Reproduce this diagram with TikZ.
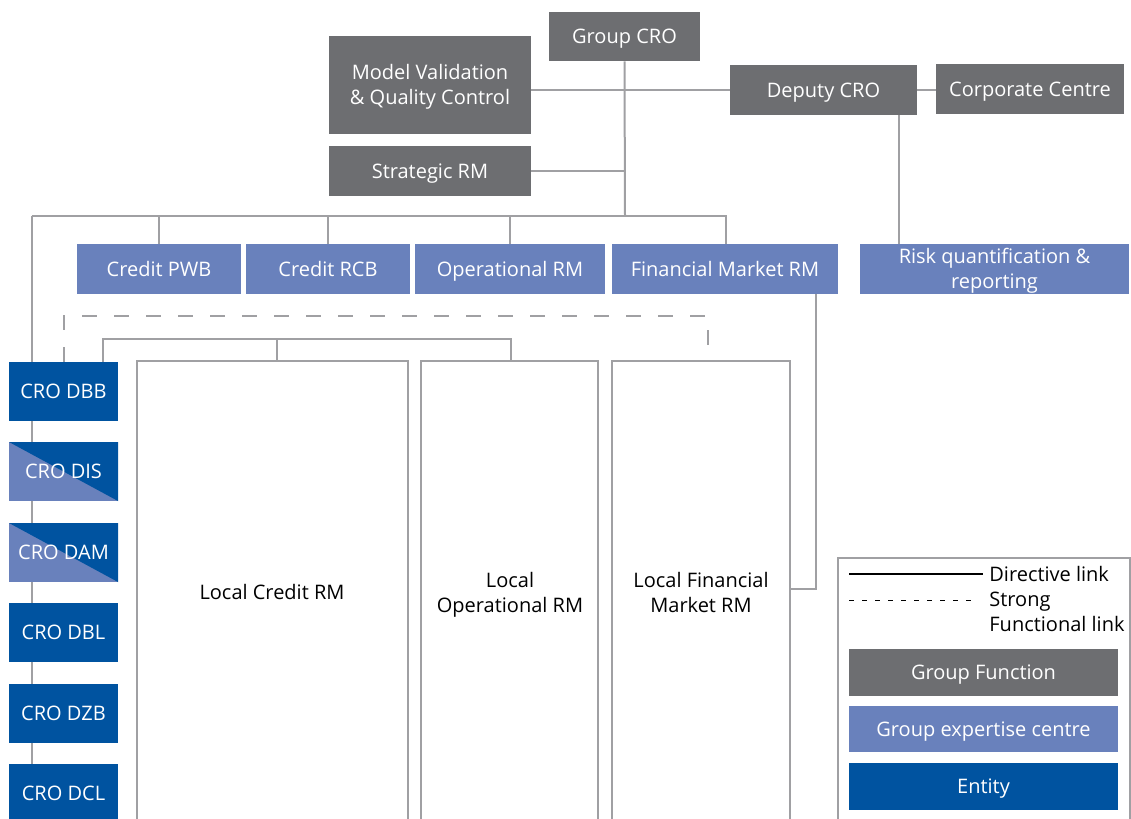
\documentclass[tikz,border=0pt]{standalone}
\usepackage{fontspec}
\setmainfont{Open Sans}
\definecolor{gf}{HTML}{6D6E71}
\definecolor{gec}{HTML}{6981BC}
\definecolor{ent}{HTML}{0053A0}
\definecolor{ln}{HTML}{A0A0A3}
\newcommand\bx[7]{%
 \pgfmathsetmacro\bw{(#4-#2)*0.5}%
 \pgfmathsetmacro\bh{(#5-#3)*0.5}%
 \node[#6,minimum width=\bw pt,minimum height=\bh pt] (#1) at ({(#2+#4)/2},{(#3+#5)/2}) {#7};}
\begin{document}
\begin{tikzpicture}[x=0.5pt,y=-0.5pt,
  box/.style={inner sep=0pt,text=white,align=center,font=\fontsize{10}{12.5}\selectfont,text height=7.1pt,text depth=0pt},
  two/.style={text height=19.6pt},
  gfbox/.style={box,fill=gf},
  gecbox/.style={box,fill=gec},
  entbox/.style={box,fill=ent},
  mixbox/.style={box,fill=gec,path picture={\fill[ent] (path picture bounding box.north west) -- (path picture bounding box.north east) -- (path picture bounding box.south east) -- cycle;}},
  localbox/.style={draw=ln,line width=1pt,fill=white,inner sep=0pt},
  link/.style={draw=ln,line width=1pt},
  flink/.style={draw=ln,line width=1pt,dash pattern=on 7.5pt off 8.5pt},
  txt/.style={inner sep=0pt,align=center,font=\fontsize{10}{12.5}\selectfont,text height=7.1pt,text depth=0pt}]
\useasboundingbox (0,0) rectangle (1131,819);
% junction coordinates
\coordinate (busL) at (31.7,216);
\coordinate (busR) at (725.8,216);
\coordinate (busG) at (625,216);
\coordinate (strJ) at (625,171);
\coordinate (fmC) at (816,589);
\coordinate (solL) at (102.7,339);
\coordinate (solR) at (511,339);
\coordinate (solC) at (277.3,339);
\coordinate (dashL) at (64.3,315.7);
\coordinate (dashR) at (707.7,315.7);
\coordinate (dpJ) at (899,114);
% boxes
\bx{gcro}{549}{12}{700}{61}{gfbox}{Group CRO}
\bx{mvqc}{329}{36}{531}{134}{gfbox,two}{Model Validation\\\& Quality Control}
\bx{srm}{329}{146}{531}{196}{gfbox}{Strategic RM}
\bx{dcro}{730}{65}{917}{115}{gfbox}{Deputy CRO}
\bx{cc}{936}{64}{1124}{114}{gfbox}{Corporate Centre}
\bx{cpwb}{77}{244}{241}{294}{gecbox}{Credit PWB}
\bx{crcb}{246}{244}{410}{294}{gecbox}{Credit RCB}
\bx{oprm}{415}{244}{605}{294}{gecbox}{Operational RM}
\bx{fmrm}{612}{244}{838}{294}{gecbox}{Financial Market RM}
\bx{rqr}{860}{244}{1129}{294}{gecbox,two}{Risk quantification \&\\reporting}
\bx{dbb}{9}{362}{118}{421}{entbox}{CRO DBB}
\bx{dis}{9}{442}{118}{501}{mixbox}{CRO DIS}
\bx{dam}{9}{523}{118}{582}{mixbox}{CRO DAM}
\bx{dbl}{9}{603}{118}{662}{entbox}{CRO DBL}
\bx{dzb}{9}{684}{118}{743}{entbox}{CRO DZB}
\bx{dcl}{9}{764}{118}{823}{entbox}{CRO DCL}
\bx{lc}{137}{361}{408}{830}{localbox}{}
\bx{lo}{421}{361}{598}{830}{localbox}{}
\bx{lfm}{612}{361}{790}{830}{localbox}{}
\node[txt] (lctxt) at (272,592) {Local Credit RM};
\node[txt,two] (lotxt) at (510,592.5) {Local\\Operational RM};
\node[txt,two] (lfmtxt) at (701,592.5) {Local Financial\\Market RM};
% connectors
\draw[link] (gcro.south) -- (busG);
\draw[link] (dcro.west -| mvqc.east) -- (dcro.west);
\draw[link] (dcro.east) -- (dcro.east -| cc.west);
\draw[link] (srm.east) -- (strJ);
\draw[link] (busL) -- (busR) -- (fmrm.north -| busR);
\draw[link] (cpwb.north) -- (cpwb.north |- busL);
\draw[link] (crcb.north) -- (crcb.north |- busL);
\draw[link] (oprm.north) -- (oprm.north |- busL);
\draw[link] (busL) -- (dbb.north -| busL);
\draw[link] (dbb.south -| busL) -- (dis.north -| busL);
\draw[link] (dis.south -| busL) -- (dam.north -| busL);
\draw[link] (dam.south -| busL) -- (dbl.north -| busL);
\draw[link] (dbl.south -| busL) -- (dzb.north -| busL);
\draw[link] (dzb.south -| busL) -- (dcl.north -| busL);
\draw[link] (dcro.south -| dpJ) -- (rqr.north -| dpJ);
\draw[link] (fmrm.south -| fmC) -- (fmC) -- (lfm.east |- fmC);
\draw[link] (dbb.north -| solL) -- (solL) -- (solR) -- (lo.north -| solR);
\draw[link] (solC) -- (lc.north -| solC);
\draw[flink] (dbb.north -| dashL) -- (dashL) -- (dashR) -- (lfm.north -| dashR);
% legend
\coordinate (lgTL) at (838.3,558.3);
\coordinate (lgTR) at (1130,558.3);
\coordinate (lgBL) at (838.3,830);
\coordinate (lgBR) at (1130,830);
\draw[link] (lgBL) -- (lgTL) -- (lgTR) -- (lgBR);
\coordinate (dirA) at (849,574);
\coordinate (dirB) at (982.7,574);
\draw[black,line width=0.6pt] (dirA) -- (dirB);
\coordinate (fnA) at (849,600.7);
\coordinate (fnB) at (977,600.7);
\draw[black,line width=0.6pt,dash pattern=on 2.6pt off 3.9pt] (fnA) -- (fnB);
\node[txt,anchor=west,text=black] (lgdir) at (989,574) {Directive link};
\node[txt,two,anchor=west,align=left,text=black] (lgfn) at (989,612) {Strong\\Functional link};
\bx{lgf}{849}{649}{1118}{696}{gfbox}{Group Function}
\bx{lgec}{849}{706}{1118}{752}{gecbox}{Group expertise centre}
\bx{lent}{849}{763}{1118}{810}{entbox}{Entity}
\end{tikzpicture}
\end{document}
